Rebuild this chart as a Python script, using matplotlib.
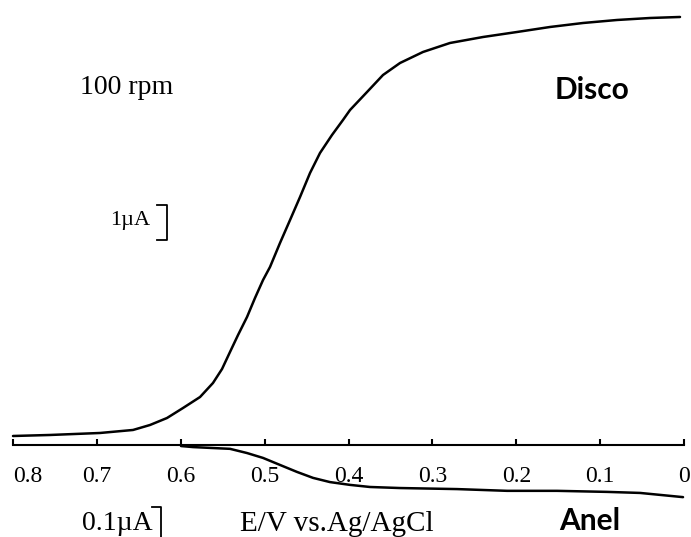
import matplotlib
matplotlib.use("Agg")
import matplotlib.pyplot as plt
import numpy as np

# ---- data ----
# Disk current (uA) vs potential (V vs Ag/AgCl)
disk_E = [0.8000, 0.7559, 0.6963, 0.6569, 0.6367, 0.6164, 0.5973, 0.5770, 0.5616, 0.5508,
          0.5413, 0.5317, 0.5210, 0.5115, 0.5019, 0.4936, 0.4817, 0.4697, 0.4578, 0.4459,
          0.4340, 0.4197, 0.4066, 0.3982, 0.3779, 0.3589, 0.3386, 0.3112, 0.2790, 0.2396,
          0.1991, 0.1598, 0.1204, 0.0799, 0.0405, 0.0048]
disk_I = [0.257, 0.286, 0.343, 0.429, 0.571, 0.771, 1.057, 1.371, 1.771, 2.171,
          2.657, 3.143, 3.657, 4.200, 4.714, 5.086, 5.771, 6.429, 7.086, 7.771,
          8.343, 8.857, 9.286, 9.571, 10.086, 10.571, 10.914, 11.229, 11.486, 11.657,
          11.800, 11.943, 12.057, 12.143, 12.200, 12.229]
# Ring current (uA), drawn with its own scale (0.1 uA bar)
ring_E = [0.5997, 0.5854, 0.5413, 0.5210, 0.5019, 0.4817, 0.4614, 0.4423, 0.4221, 0.3982,
          0.3744, 0.3386, 0.2706, 0.2110, 0.1514, 0.0918, 0.0524, 0.0012]
ring_I = [-0.003, -0.006, -0.011, -0.023, -0.037, -0.057, -0.077, -0.094, -0.106, -0.114,
          -0.120, -0.123, -0.126, -0.131, -0.131, -0.134, -0.137, -0.149]
ring_gain = 10.0  # 0.1 uA ring drawn on the 1 uA disk scale

tick_vals = [0.8, 0.7, 0.6, 0.5, 0.4, 0.3, 0.2, 0.1, 0.0]
tick_labels = ["0.8", "0.7", "0.6", "0.5", "0.4", "0.3", "0.2", "0.1", "0"]

serif = ["Liberation Serif", "DejaVu Serif"]
sans_b = ["Lato", "DejaVu Sans"]

fig = plt.figure(figsize=(6.91, 5.37), dpi=100)
ax = fig.add_axes([0, 0, 1, 1])
ax.set_xlim(0.8155, -0.0083)
ax.set_ylim(-2.629, 12.714)

ax.plot(disk_E, disk_I, color="black", lw=1.8, solid_capstyle="round", solid_joinstyle="round")
ax.plot(ring_E, np.array(ring_I) * ring_gain, color="black", lw=1.8,
        solid_capstyle="round", solid_joinstyle="round")

for s in ["top", "left", "right"]:
    ax.spines[s].set_visible(False)
ax.spines["bottom"].set_position(("data", 0))
ax.spines["bottom"].set_bounds(0.8, 0.0)
ax.spines["bottom"].set_linewidth(1.5)
ax.set_yticks([])
ax.set_xticks(tick_vals)
ax.set_xticklabels(tick_labels, fontfamily=serif, fontsize=17)
ax.tick_params(axis="x", direction="in", length=4, width=1.5, pad=15)
labs = ax.get_xticklabels()
labs[0].set_horizontalalignment("left")
ax.patch.set_alpha(0)

# scale bars (1 uA for disk, 0.1 uA for ring)
def bracket(x, y0, y1, arm=0.011):
    ax.plot([x + arm, x, x, x + arm], [y0, y0, y1, y1], color="black", lw=1.3)

bracket(0.617, 5.857, 6.857)
bracket(0.623, -2.771, -1.771)

fig.text(110 / 691, 1 - 220 / 537, "1\u00b5A", fontfamily=serif, fontsize=16, va="center", ha="left")
fig.text(80 / 691, 1 - 87 / 537, "100 rpm", fontfamily=serif, fontsize=20, va="center", ha="left")
fig.text(82 / 691, 1 - 523 / 537, "0.1\u00b5A", fontfamily=serif, fontsize=20, va="center", ha="left")
fig.text(240 / 691, 1 - 524 / 537, "E/V vs.Ag/AgCl", fontfamily=serif, fontsize=21, va="center", ha="left")
fig.text(592 / 691, 1 - 90 / 537, "Disco", fontfamily=sans_b, fontweight="bold", fontsize=21.5,
         va="center", ha="center")
fig.text(590 / 691, 1 - 530 / 537, "Anel", fontfamily=sans_b, fontweight="bold", fontsize=21.5,
         va="baseline", ha="center")

fig.savefig("out.png", dpi=100)
